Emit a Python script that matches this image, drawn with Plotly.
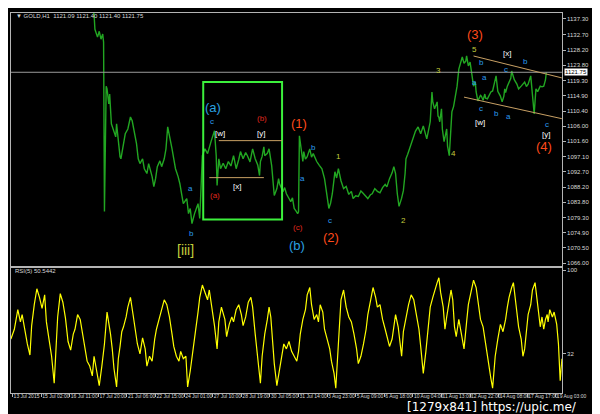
import plotly.graph_objects as go

# ---------------- data ----------------
# x = H1 bar index from the left edge of the window
price_bar = [92, 96, 97, 100, 102, 104, 106, 107, 108, 110, 111, 113, 114, 115, 116, 118, 121, 122, 124, 126, 127,
             129, 132, 135, 138, 140, 143, 145, 147, 149, 152, 154, 157, 159, 163, 165, 167, 169, 172, 174, 177, 179,
             181, 184, 186, 188, 190, 193, 195, 197, 199, 203, 205, 207, 209, 212, 216, 218, 220, 221, 224, 227, 231,
             235, 237, 238, 240, 242, 245, 248, 251, 254, 257, 260, 263, 265, 268, 271, 273, 276, 279, 282, 285, 287,
             288, 290, 292, 293, 296, 298, 301, 303, 304, 307, 309, 310, 312, 314, 316, 318, 321, 323, 325, 327, 329,
             331, 332, 333, 337, 338, 340, 342, 345, 347, 349, 351, 353, 356, 359, 362, 365, 367, 369, 371, 374, 376,
             378, 381, 384, 387, 390, 393, 395, 398, 401, 404, 406, 409, 412, 415, 417, 420, 423, 426, 429, 432, 434,
             437, 440, 442, 444, 446, 448, 451, 453, 455, 456, 458, 460, 462, 465, 467, 470, 473, 476, 478, 480, 482,
             484, 486, 487, 489, 492, 493, 494, 495, 497, 498, 500, 503, 504, 506, 508, 509, 511, 512, 514, 515, 517,
             519, 521, 523, 525, 526, 528, 530, 532, 534, 536, 537, 539, 542, 543, 545, 547, 548, 550, 552, 554, 556,
             558, 560, 562, 565, 567, 569, 570, 571, 573, 575, 577, 578, 581, 584, 586, 589, 591, 593, 595, 597, 600,
             602, 604, 606, 608, 611, 613, 615, 617, 618, 619, 620, 622, 625, 628, 631, 634, 636]
price_close = [1141.5, 1138.7, 1134.3, 1132.0, 1133.7, 1131.4, 1132.9, 1130.5, 1081.1, 1117.7, 1116.9, 1112.5,
               1115.4, 1111.1, 1106.7, 1105.2, 1102.9, 1106.7, 1100.9, 1097.1, 1096.5, 1099.4, 1103.8, 1105.2,
               1108.7, 1107.6, 1103.8, 1100.9, 1096.5, 1095.1, 1096.5, 1093.6, 1092.2, 1095.1, 1091.3, 1088.4,
               1090.7, 1094.2, 1095.9, 1094.2, 1096.5, 1099.4, 1105.8, 1102.3, 1099.4, 1096.5, 1093.6, 1091.3,
               1089.3, 1086.3, 1083.4, 1084.9, 1080.5, 1082.0, 1077.6, 1080.5, 1083.4, 1079.1, 1091.6, 1097.4,
               1099.4, 1098.0, 1101.5, 1104.7, 1097.4, 1088.7, 1096.5, 1093.6, 1095.2, 1093.6, 1095.7, 1094.4,
               1097.4, 1093.6, 1096.3, 1098.6, 1096.5, 1098.3, 1097.4, 1095.6, 1099.4, 1096.5, 1094.6, 1091.6,
               1095.7, 1097.2, 1100.0, 1097.4, 1098.1, 1099.4, 1094.5, 1088.7, 1085.8, 1087.8, 1090.7, 1089.3,
               1088.0, 1086.9, 1088.1, 1086.3, 1084.9, 1084.0, 1085.1, 1082.0, 1081.3, 1080.5, 1081.0, 1103.2,
               1095.7, 1098.6, 1096.4, 1097.1, 1099.4, 1097.0, 1098.0, 1096.8, 1095.7, 1094.6, 1093.6, 1090.7,
               1084.9, 1082.0, 1083.6, 1086.3, 1092.7, 1090.9, 1093.6, 1090.1, 1087.8, 1088.4, 1086.1, 1087.0,
               1084.9, 1085.7, 1085.5, 1087.1, 1086.6, 1085.6, 1084.9, 1086.0, 1086.3, 1087.8, 1087.0, 1086.6,
               1088.1, 1089.0, 1088.3, 1090.7, 1092.4, 1094.2, 1092.2, 1086.3, 1082.6, 1085.0, 1087.2, 1092.2,
               1096.5, 1097.8, 1099.4, 1101.0, 1102.9, 1104.6, 1105.8, 1103.8, 1106.1, 1104.0, 1102.3, 1104.8,
               1107.3, 1116.0, 1113.0, 1111.1, 1113.1, 1109.0, 1108.6, 1107.3, 1111.1, 1105.2, 1101.5, 1105.2,
               1100.2, 1097.4, 1107.3, 1110.2, 1111.8, 1113.1, 1116.0, 1117.7, 1122.7, 1124.7, 1126.2, 1124.4,
               1125.0, 1126.5, 1123.6, 1124.7, 1120.7, 1117.7, 1118.9, 1116.0, 1113.4, 1115.0, 1114.8, 1113.6,
               1115.4, 1114.2, 1114.0, 1115.2, 1116.0, 1116.3, 1118.3, 1120.7, 1116.2, 1114.8, 1113.1, 1114.8,
               1116.9, 1115.8, 1117.7, 1118.9, 1120.0, 1122.1, 1119.6, 1118.3, 1116.9, 1117.7, 1118.4, 1118.9,
               1117.6, 1118.3, 1120.7, 1116.0, 1109.6, 1116.9, 1116.1, 1117.7, 1117.5, 1117.7, 1119.5, 1121.75]

rsi_bar = [0, 4, 8, 11, 13, 16, 19, 22, 24, 27, 30, 33, 36, 39, 41, 44, 47, 50, 52, 54, 57, 60, 63, 66, 69, 72, 74,
           77, 80, 83, 85, 88, 91, 94, 96, 99, 102, 105, 108, 111, 113, 115, 117, 119, 122, 124, 126, 128, 130, 133,
           135, 138, 141, 144, 146, 149, 152, 155, 157, 160, 163, 166, 168, 171, 174, 177, 180, 183, 186, 188, 191,
           194, 196, 199, 202, 204, 207, 210, 213, 216, 218, 221, 224, 227, 229, 232, 235, 238, 240, 243, 247, 249,
           252, 255, 257, 260, 263, 266, 268, 271, 274, 277, 279, 282, 285, 288, 290, 293, 296, 298, 300, 302, 304,
           307, 310, 312, 315, 318, 321, 324, 327, 330, 332, 334, 337, 340, 342, 345, 347, 350, 353, 355, 357, 360,
           362, 365, 368, 370, 373, 375, 377, 379, 381, 384, 387, 390, 393, 396, 399, 401, 404, 407, 410, 412, 414,
           416, 418, 421, 423, 426, 429, 432, 434, 437, 440, 442, 444, 447, 449, 451, 453, 456, 459, 462, 465, 468,
           471, 473, 476, 479, 482, 484, 487, 490, 492, 494, 496, 499, 501, 503, 506, 508, 510, 512, 514, 517, 520,
           523, 526, 528, 531, 534, 537, 540, 542, 545, 547, 549, 551, 554, 556, 559, 562, 565, 568, 571, 573, 575,
           578, 580, 583, 586, 589, 591, 593, 595, 597, 600, 602, 605, 608, 611, 613, 615, 617, 619, 620, 622, 625,
           627, 630, 632, 634, 636]
rsi_value = [44, 52, 68, 58, 64, 50, 40, 31, 55, 72, 85, 78, 69, 80, 58, 44, 30, 8, 35, 62, 81, 74, 61, 42, 35, 48,
             52, 64, 60, 46, 38, 26, 22, 14, 30, 18, 6, 22, 40, 66, 58, 48, 36, 20, 5, 28, 38, 50, 54, 62, 70, 78,
             64, 48, 40, 32, 45, 36, 22, 30, 26, 44, 52, 60, 68, 76, 72, 62, 48, 38, 30, 26, 34, 28, 30, 5, 18, 32,
             50, 66, 78, 88, 82, 76, 84, 70, 55, 36, 58, 70, 60, 46, 56, 62, 58, 68, 72, 64, 55, 62, 74, 78, 70, 48,
             28, 8, 30, 48, 60, 70, 62, 44, 24, 6, 18, 28, 40, 36, 42, 34, 30, 26, 34, 48, 60, 68, 80, 86, 72, 60,
             64, 58, 72, 66, 52, 44, 36, 26, 16, 4, 26, 48, 76, 84, 70, 62, 58, 48, 36, 24, 30, 40, 52, 64, 72, 80,
             86, 78, 70, 72, 60, 52, 46, 38, 44, 56, 64, 54, 40, 30, 50, 62, 72, 80, 76, 64, 52, 38, 16, 34, 56, 70,
             78, 86, 90, 94, 82, 70, 52, 62, 74, 84, 76, 54, 46, 60, 48, 36, 58, 72, 82, 92, 86, 72, 60, 54, 44, 36,
             24, 12, 4, 30, 44, 56, 50, 60, 70, 78, 86, 90, 72, 54, 44, 30, 36, 50, 64, 72, 84, 90, 70, 54, 62, 52,
             60, 64, 58, 68, 62, 66, 56, 40, 10, 28, 44, 56, 50, 60, 66, 74, 88]

x_tick_bars = [2, 35, 68, 101, 134, 167, 200, 233, 266, 299, 332, 365, 398, 431, 464, 497, 530, 563, 596, 629]
x_tick_text = ["13 Jul 2015", "15 Jul 02:00", "16 Jul 11:00", "17 Jul 20:00", "21 Jul 06:00", "22 Jul 15:00",
               "24 Jul 01:00", "27 Jul 10:00", "28 Jul 19:00", "30 Jul 05:00", "31 Jul 14:00", "3 Aug 23:00",
               "5 Aug 09:00", "6 Aug 18:00", "10 Aug 04:00", "11 Aug 13:00", "12 Aug 22:00", "14 Aug 08:00",
               "17 Aug 17:00", "19 Aug 03:00"]
price_ticks = [1066.00, 1070.50, 1074.90, 1079.30, 1083.80, 1088.20, 1092.70, 1097.10, 1101.60, 1106.00,
               1110.40, 1114.90, 1119.30, 1123.80, 1128.20, 1132.70, 1137.30]
rsi_ticks = [100, 32]
last_price = 1121.75

# wave labels: (text, bar, price, colour-group, size)
wave_labels = [
    ("[iii]", 202, 1069.8, "num", 14), ("b", 209, 1074.7, "blue", 8), ("a", 207, 1087.8, "blue", 8),
    ("(a)", 233, 1111.6, "bigblue", 13), ("c", 232, 1107.3, "blue", 8), ("[w]", 241, 1103.8, "white", 8),
    ("[y]", 289, 1103.8, "white", 8), ("(b)", 290, 1108.2, "red", 8), ("[x]", 261, 1088.4, "white", 8),
    ("(a)", 236, 1085.8, "red", 8), ("(1)", 332, 1106.7, "big", 13), ("a", 336, 1090.7, "blue", 8),
    ("b", 349, 1099.7, "blue", 8), ("(c)", 331, 1076.5, "red", 8), ("(b)", 330, 1071.2, "bigblue", 13),
    ("(2)", 370, 1073.6, "big", 13), ("c", 368, 1078.5, "blue", 8), ("1", 378, 1097.1, "num", 8),
    ("2", 453, 1078.5, "num", 8), ("3", 494, 1122.4, "num", 8), ("4", 511, 1098.0, "num", 8),
    ("(3)", 536, 1132.9, "big", 13), ("5", 535, 1128.5, "num", 8), ("[x]", 573, 1127.3, "white", 8),
    ("b", 543, 1124.7, "blue", 8), ("b", 594, 1125.0, "blue", 8), ("c", 572, 1122.7, "blue", 8),
    ("a", 535, 1118.9, "blue", 8), ("a", 547, 1120.1, "blue", 8), ("c", 543, 1111.1, "blue", 8),
    ("b", 560, 1109.6, "blue", 8), ("a", 574, 1108.7, "blue", 8), ("[w]", 542, 1107.0, "white", 8),
    ("c", 619, 1106.4, "blue", 8), ("[y]", 618, 1103.5, "white", 8), ("(4)", 615, 1100.0, "big", 13),
]
label_colors = {"num": "#c3cf3c", "blue": "#2b9bf0", "bigblue": "#2aa0e0", "white": "#ffffff",
                "red": "#e0281e", "big": "#ff4a1a"}

box_x = [222, 313]
box_y = [1078.8, 1118.9]
flat_top = ([240, 313], 1101.8)
flat_bottom = ([229, 292], 1091.0)
chan_upper = ([534, 636], [1126.5, 1120.1])
chan_lower = ([523, 636], [1114.5, 1108.2])

# ---------------- figure ----------------
XDOM = [3 / 600, 577 / 600]
XR = [0, 636]
fig = go.Figure()
fig.add_trace(go.Scatter(x=price_bar, y=price_close, mode="lines",
                         line=dict(color="#22a622", width=1.4), xaxis="x", yaxis="y",
                         hoverinfo="skip", showlegend=False))
fig.add_trace(go.Scatter(x=rsi_bar, y=rsi_value, mode="lines",
                         line=dict(color="#ffff00", width=1.2), xaxis="x2", yaxis="y2",
                         hoverinfo="skip", showlegend=False))

tick_font = dict(family="Liberation Sans, Arial, sans-serif", size=6, color="#d8d8d8")
xtick_font = dict(family="Liberation Sans Narrow, Liberation Sans, Arial, sans-serif", size=5, color="#d8d8d8")
frame = dict(showline=True, linecolor="#b4b4b4", linewidth=1, mirror=True, showgrid=False, zeroline=False)
fig.update_layout(
    width=600, height=414, margin=dict(l=0, r=0, t=0, b=0),
    paper_bgcolor="#000000", plot_bgcolor="#000000", showlegend=False,
    xaxis=dict(domain=XDOM, range=XR, anchor="y", showticklabels=False, ticks="", **frame),
    yaxis=dict(domain=[1 - 258 / 414, 1 - 4 / 414], range=[1065.1, 1139.05], anchor="x", side="right",
               tickvals=price_ticks, ticktext=[f"{v:.2f}" for v in price_ticks], ticks="outside",
               ticklen=3, tickcolor="#b4b4b4", tickfont=tick_font, **frame),
    xaxis2=dict(domain=XDOM, range=XR, anchor="y2", tickvals=x_tick_bars, ticktext=x_tick_text,
                ticks="outside", ticklen=3, tickcolor="#b4b4b4", tickfont=xtick_font, tickangle=0,
                ticklabelposition="outside right", ticklabeloverflow="allow", ticklabelstandoff=-2,
                **frame),
    yaxis2=dict(domain=[1 - 385 / 414, 1 - 260 / 414], range=[0, 101.6], anchor="x2", side="right",
                tickvals=rsi_ticks, ticktext=[str(v) for v in rsi_ticks], ticks="outside", ticklen=3,
                tickcolor="#b4b4b4", tickfont=tick_font, **frame),
)

# current price line
fig.add_shape(type="line", xref="x", yref="y", x0=XR[0], x1=XR[1], y0=last_price, y1=last_price,
              line=dict(color="#9a9a9a", width=1))
fig.add_annotation(xref="paper", yref="y", x=XDOM[1] + 0.004, y=last_price, text=f"{last_price:.2f}",
                   showarrow=False, xanchor="left", bgcolor="#ffffff",
                   font=dict(family="Liberation Sans, Arial", size=6, color="#000000"), borderpad=0)

# box and trend lines
fig.add_shape(type="rect", xref="x", yref="y", x0=box_x[0], x1=box_x[1], y0=box_y[0], y1=box_y[1],
              line=dict(color="#3cf03c", width=2))
tan = "#c8a064"
fig.add_shape(type="line", xref="x", yref="y", x0=flat_top[0][0], x1=flat_top[0][1], y0=flat_top[1],
              y1=flat_top[1], line=dict(color=tan, width=1))
fig.add_shape(type="line", xref="x", yref="y", x0=flat_bottom[0][0], x1=flat_bottom[0][1],
              y0=flat_bottom[1], y1=flat_bottom[1], line=dict(color=tan, width=1))
for xs, ys in (chan_upper, chan_lower):
    fig.add_shape(type="line", xref="x", yref="y", x0=xs[0], x1=xs[1], y0=ys[0], y1=ys[1],
                  line=dict(color=tan, width=1))

for txt, bx, py, grp, sz in wave_labels:
    fig.add_annotation(xref="x", yref="y", x=bx, y=py, text=txt, showarrow=False,
                       font=dict(family="Liberation Sans, Arial", size=sz, color=label_colors[grp]))

# headers
fig.add_annotation(xref="paper", yref="paper", x=6 / 600, y=1 - 7 / 414, xanchor="left", yanchor="middle",
                   text="▼ GOLD,H1  1121.09 1121.40 1121.40 1121.75", showarrow=False,
                   font=dict(family="Liberation Sans, Arial", size=6, color="#d8d8d8"))
fig.add_annotation(xref="paper", yref="paper", x=5 / 600, y=1 - 263 / 414, xanchor="left", yanchor="middle",
                   text="RSI(5) 50.5442", showarrow=False,
                   font=dict(family="Liberation Sans, Arial", size=6, color="#d8d8d8"))
fig.add_annotation(xref="paper", yref="paper", x=595 / 600, y=1 - 399 / 414, xanchor="right",
                   yanchor="middle", text="[1279x841] https://upic.me/", showarrow=False,
                   font=dict(family="DejaVu Sans, Arial", size=12, color="#ffffff"))

fig.write_html("out.html")
